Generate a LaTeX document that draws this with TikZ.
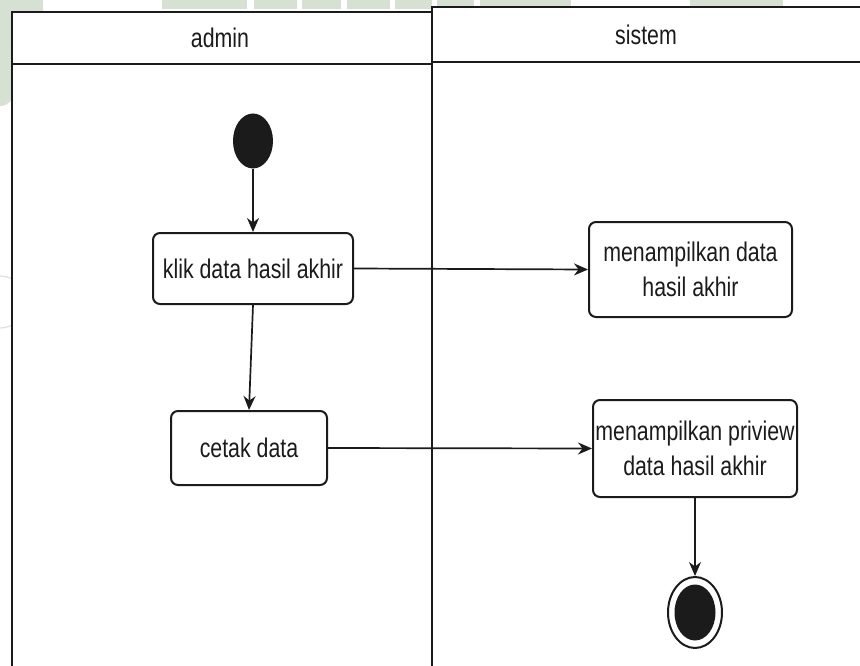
\documentclass[tikz,border=0pt]{standalone}
\usepackage{fontspec}
\setmainfont[FakeStretch=0.79]{Liberation Sans}
\usetikzlibrary{shapes.geometric,arrows.meta}
\definecolor{ink}{HTML}{1B1B1B}
\definecolor{wm}{HTML}{D6E1D3}
\begin{document}
\begin{tikzpicture}[x=1pt,y=-1pt,
  lane/.style={draw=ink,line width=1.9pt,fill=white},
  act/.style={draw=ink,line width=2pt,rounded corners=7pt,fill=white,inner sep=0pt,
    align=center,font=\fontsize{27}{35}\selectfont,text=ink},
  flow/.style={draw=ink,line width=1.7pt,-{Stealth[length=14pt,width=12pt]}},
  lanelabel/.style={font=\fontsize{27}{32}\selectfont,text=ink},
  dot/.style={ellipse,fill=ink,inner sep=0pt}
]
\useasboundingbox (0,0) rectangle (860,666);
% faint background marks behind the lanes
\fill[wm] (0,0) rectangle (43,12);
\fill[wm] (0,0) -- (14,0) -- (14,92) arc[start angle=0,end angle=90,radius=14] -- (0,106) -- cycle;
\draw[gray!25,line width=1.2pt] (0,276) arc[start angle=-90,end angle=90,radius=26];
\foreach \a/\b in {162/247,254/297,302/341,347/390,395/432,437/474,480/571,690/783}
  \fill[wm] (\a,0) rectangle (\b,9);
% swimlanes
\draw[lane] (12,12) rectangle (432,672);
\draw[ink,line width=1.9pt] (12,64) -- (432,64);
\draw[lane] (432,7) rectangle (868,672);
\draw[ink,line width=1.9pt] (432,62) -- (868,62);
\node[lanelabel] (admin) at (220,38) {admin};
\node[lanelabel] (sistem) at (646,35) {sistem};
% activity nodes
\node[dot,minimum width=40pt,minimum height=55pt] (start) at (253,141) {};
\node[act,minimum width=200pt,minimum height=71pt] (klik) at (253,268.5) {klik data hasil akhir};
\node[act,minimum width=203pt,minimum height=95pt] (tampil) at (690.5,269.5) {menampilkan data\\hasil akhir};
\node[act,minimum width=156pt,minimum height=74pt] (cetak) at (249,448) {cetak data};
\node[act,minimum width=204pt,minimum height=97pt] (preview) at (695,448.5) {menampilkan priview\\data hasil akhir};
\node[ellipse,draw=ink,line width=2pt,fill=white,minimum width=54pt,minimum height=71pt,inner sep=0pt] (end) at (695,612.5) {};
\node[dot,minimum width=41pt,minimum height=56pt] (endcore) at (end.center) {};
% control flow
\draw[flow] (start) -- (klik);
\draw[flow] (klik.east) -- (tampil.west);
\draw[flow] (klik.south) -- (cetak.north);
\draw[flow] (cetak.east) -- (preview.west);
\draw[flow] (preview.south) -- (end.north);
\end{tikzpicture}
\end{document}
